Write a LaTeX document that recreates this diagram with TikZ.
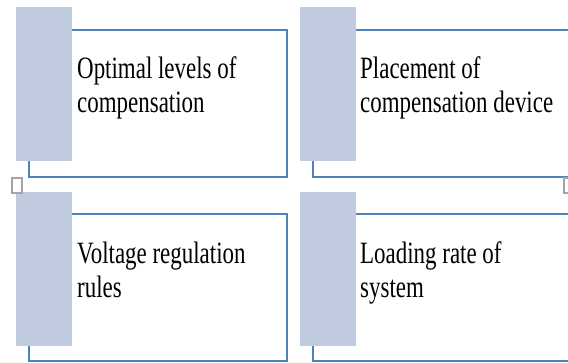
\documentclass[tikz,border=0pt]{standalone}
\usepackage{fontspec}
\setmainfont[FakeStretch=0.74]{Liberation Serif}
\definecolor{boxblue}{RGB}{79,129,189}
\definecolor{tabfill}{RGB}{192,203,224}
\definecolor{markgray}{RGB}{165,165,165}

\begin{document}
\begin{tikzpicture}[x=1pt, y=1pt,
  frame/.style={draw=boxblue, line width=1.5pt, minimum width=258pt, minimum height=147pt, anchor=north west, inner sep=0pt},
  tab/.style={fill=tabfill, minimum width=56pt, minimum height=154pt, anchor=north west, inner sep=0pt},
  caption/.style={anchor=base west, align=left, inner sep=0pt, font=\fontsize{31}{34}\selectfont},
  handle/.style={draw=markgray, line width=2pt, minimum width=10pt, minimum height=15pt, inner sep=0pt}]
  \useasboundingbox (0,0) rectangle (568,-362);
  \clip (0,0) rectangle (568,-362);
  % outlined boxes
  \node[frame] (optbox) at (28,-29) {};
  \node[frame] (plcbox) at (312,-29) {};
  \node[frame] (volbox) at (28,-213) {};
  \node[frame] (ldbox) at (312,-213) {};
  % shaded tabs
  \node[tab] (opttab) at (16,-7) {};
  \node[tab] (plctab) at (300,-7) {};
  \node[tab] (voltab) at (16,-192) {};
  \node[tab] (ldtab) at (300,-192) {};
  % texts (base = last line)
  \node[caption] (opttext) at (77,-112) {Optimal levels of\\compensation};
  \node[caption] (plctext) at (360,-112) {Placement of\\compensation device};
  \node[caption] (voltext) at (77,-297) {Voltage regulation\\rules};
  \node[caption] (ldtext) at (360,-297) {Loading rate of\\system};
  % little handles
  \node[handle] (lefthandle) at (16.5,-185) {};
  \node[handle] (righthandle) at (569,-185) {};
\end{tikzpicture}
\end{document}
